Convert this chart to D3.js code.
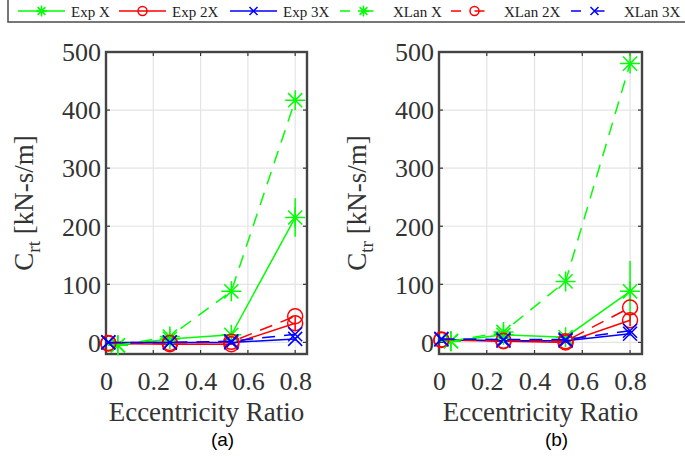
<!DOCTYPE html>
<html><head><meta charset="utf-8">
<script src="https://cdn.jsdelivr.net/npm/d3@7"></script>
<style>html,body{margin:0;padding:0;background:#fff;}svg{display:block;}</style>
</head><body>
<script>
// ---- data ----
const xGreen = [0.05, 0.27, 0.53, 0.8];
const xOther = [0.01, 0.27, 0.53, 0.8];
const xTicks = [0, 0.2, 0.4, 0.6, 0.8];
const xTickLabels = ["0", "0.2", "0.4", "0.6", "0.8"];
const yTicks = [0, 100, 200, 300, 400, 500];
const yTickLabels = ["0", "100", "200", "300", "400", "500"];
const legendLabels = ["Exp X", "Exp 2X", "Exp 3X", "XLan X", "XLan 2X", "XLan 3X"];

// panel (a): C_rt
const expX_a = [-5, 6, 13, 215];
const expXErr_a = [2, 3, 4, 33];
const exp2X_a = [-2, -3, -3, 33];
const exp2XErr_a = [1, 1, 1, 12];
const exp3X_a = [0, 0, 0, 6];
const exp3XErr_a = [1, 1, 1, 3];
const xlanX_a = [-5, 10, 88, 417];
const xlan2X_a = [-1, -1, 1, 45];
const xlan3X_a = [0, 0, 2, 14];

// panel (b): C_tr
const expX_b = [2, 13, 9, 88];
const expXErr_b = [2, 3, 3, 52];
const exp2X_b = [4, 2, 0, 38];
const exp2XErr_b = [1, 1, 1, 10];
const exp3X_b = [5, 3, 3, 15];
const exp3XErr_b = [1, 1, 1, 3];
const xlanX_b = [2, 18, 105, 480];
const xlan2X_b = [5, 3, 2, 60];
const xlan3X_b = [6, 5, 5, 20];

const GREEN = "#00ff00", RED = "#ff0000", BLUE = "#0000ff";
const serif = "'Liberation Serif','Times New Roman',serif";

const W = 685, H = 461;
const svg = d3.select("body").append("svg").attr("width", W).attr("height", H)
  .style("background", "#fff");

// ---- marker drawing ----
function marker(g, type, cx, cy, r, color) {
  if (type === "star") {
    const d = r * 0.7071;
    const p = `M${cx - r},${cy}L${cx + r},${cy}M${cx},${cy - r}L${cx},${cy + r}` +
      `M${cx - d},${cy - d}L${cx + d},${cy + d}M${cx - d},${cy + d}L${cx + d},${cy - d}`;
    g.append("path").attr("d", p).attr("stroke", color).attr("stroke-width", 1.5).attr("fill", "none");
  } else if (type === "circle") {
    g.append("circle").attr("cx", cx).attr("cy", cy).attr("r", r)
      .attr("stroke", color).attr("stroke-width", 1.5).attr("fill", "none");
  } else {
    const p = `M${cx - r},${cy - r}L${cx + r},${cy + r}M${cx - r},${cy + r}L${cx + r},${cy - r}`;
    g.append("path").attr("d", p).attr("stroke", color).attr("stroke-width", 1.5).attr("fill", "none");
  }
}

// ---- legend ----
const leg = svg.append("g");
leg.append("rect").attr("x", 8).attr("y", -3).attr("width", 690).attr("height", 25)
  .attr("fill", "#fff").attr("stroke", "#555").attr("stroke-width", 1.6);
const legItems = [
  { c: GREEN, m: "star", dash: null, x0: 18 },
  { c: RED, m: "circle", dash: null, x0: 119 },
  { c: BLUE, m: "x", dash: null, x0: 230 },
  { c: GREEN, m: "star", dash: "9,7", x0: 340 },
  { c: RED, m: "circle", dash: "9,7", x0: 451 },
  { c: BLUE, m: "x", dash: "9,7", x0: 571 }
];
legItems.forEach((it, i) => {
  const y = 11;
  leg.append("line").attr("x1", it.x0).attr("x2", it.x0 + 47).attr("y1", y).attr("y2", y)
    .attr("stroke", it.c).attr("stroke-width", 1.5)
    .attr("stroke-dasharray", it.dash ? "10,13.5" : null);
  marker(leg, it.m, it.x0 + 23.5, y, it.m === "circle" ? 4.5 : (it.m === "star" ? 5.5 : 4), it.c);
  leg.append("text").attr("x", it.x0 + 53).attr("y", y + 5.5)
    .attr("font-family", serif).attr("font-size", 15).attr("fill", "#222")
    .text(legendLabels[i]);
});

// ---- panels ----
function panel(opt) {
  const x = d3.scaleLinear().domain([0, 0.85]).range([opt.x0, opt.x1]);
  const y = d3.scaleLinear().domain([-20, 500]).range([354, 52]);
  const g = svg.append("g");

  // grid
  g.selectAll(".gx").data(xTicks.slice(1)).enter().append("line")
    .attr("x1", d => x(d)).attr("x2", d => x(d)).attr("y1", y(500)).attr("y2", y(-20))
    .attr("stroke", "#e4e4e4").attr("stroke-width", 1.2);
  g.selectAll(".gy").data(yTicks).enter().append("line")
    .attr("x1", x(0)).attr("x2", x(0.85)).attr("y1", d => y(d)).attr("y2", d => y(d))
    .attr("stroke", "#e4e4e4").attr("stroke-width", 1.2);

  // axes via d3 (labels)
  const ax = d3.axisBottom(x).tickValues(xTicks).tickFormat((d, i) => xTickLabels[i]).tickSize(0).tickPadding(0);
  const axG = g.append("g").attr("transform", `translate(0,${y(-20)})`).call(ax);
  axG.select(".domain").remove();
  axG.selectAll("text").attr("font-family", serif).attr("font-size", 26).attr("fill", "#333")
    .attr("dy", null).attr("y", 36);

  const ay = d3.axisLeft(y).tickValues(yTicks).tickFormat((d, i) => yTickLabels[i]).tickSize(0).tickPadding(5);
  const ayG = g.append("g").attr("transform", `translate(${x(0)},0)`).call(ay);
  ayG.select(".domain").remove();
  ayG.selectAll("text").attr("font-family", serif).attr("font-size", 26).attr("fill", "#333")
    .attr("dy", "0.34em");

  // inward ticks all sides
  const tk = 4;
  xTicks.forEach(d => {
    g.append("line").attr("x1", x(d)).attr("x2", x(d)).attr("y1", y(500)).attr("y2", y(500) + tk)
      .attr("stroke", "#333").attr("stroke-width", 1.2);
    g.append("line").attr("x1", x(d)).attr("x2", x(d)).attr("y1", y(-20)).attr("y2", y(-20) - tk)
      .attr("stroke", "#333").attr("stroke-width", 1.2);
  });
  yTicks.forEach(d => {
    g.append("line").attr("x1", x(0)).attr("x2", x(0) + tk).attr("y1", y(d)).attr("y2", y(d))
      .attr("stroke", "#333").attr("stroke-width", 1.2);
    g.append("line").attr("x1", x(0.85)).attr("x2", x(0.85) - tk).attr("y1", y(d)).attr("y2", y(d))
      .attr("stroke", "#333").attr("stroke-width", 1.2);
  });

  // frame
  g.append("rect").attr("x", x(0)).attr("y", y(500)).attr("width", x(0.85) - x(0)).attr("height", y(-20) - y(500))
    .attr("fill", "none").attr("stroke", "#444").attr("stroke-width", 2.4);

  // series
  const series = [
    { xs: xGreen, ys: opt.expX, err: opt.expXErr, c: GREEN, m: "star", dash: null },
    { xs: xOther, ys: opt.exp2X, err: opt.exp2XErr, c: RED, m: "circle", dash: null },
    { xs: xOther, ys: opt.exp3X, err: opt.exp3XErr, c: BLUE, m: "x", dash: null },
    { xs: xGreen, ys: opt.xlanX, err: null, c: GREEN, m: "star", dash: "13,9" },
    { xs: xOther, ys: opt.xlan2X, err: null, c: RED, m: "circle", dash: "13,9" },
    { xs: xOther, ys: opt.xlan3X, err: null, c: BLUE, m: "x", dash: "13,9" }
  ];
  const line = d3.line().x(d => x(d[0])).y(d => y(d[1]));
  series.forEach(s => {
    const pts = s.xs.map((xv, i) => [xv, s.ys[i]]);
    g.append("path").attr("d", line(pts)).attr("fill", "none").attr("stroke", s.c)
      .attr("stroke-width", 1.5).attr("stroke-dasharray", s.dash);
    if (s.err) {
      pts.forEach((p, i) => {
        g.append("line").attr("x1", x(p[0])).attr("x2", x(p[0]))
          .attr("y1", y(p[1] - s.err[i])).attr("y2", y(p[1] + s.err[i]))
          .attr("stroke", s.c).attr("stroke-width", 1.5);
      });
    }
    pts.forEach(p => marker(g, s.m, x(p[0]), y(p[1]), s.m === "circle" ? 7.5 : (s.m === "star" ? 10 : 7), s.c));
  });

  // y label
  const yl = g.append("text").attr("transform", `translate(${opt.x0 - 73},${(y(500) + y(-20)) / 2}) rotate(-90)`)
    .attr("text-anchor", "middle").attr("font-family", serif).attr("font-size", 27).attr("fill", "#333");
  yl.append("tspan").text("C");
  yl.append("tspan").attr("font-size", 19).attr("dy", 7).text(opt.sub);
  yl.append("tspan").attr("dy", -7).text(" [kN-s/m]");

  // x label
  g.append("text").attr("x", (opt.x0 + opt.x1) / 2).attr("y", 421).attr("text-anchor", "middle")
    .attr("font-family", serif).attr("font-size", 27).attr("fill", "#333").text("Eccentricity Ratio");

  // subfigure label
  g.append("text").attr("x", (opt.x0 + opt.x1) / 2 + 16).attr("y", 446).attr("text-anchor", "middle")
    .attr("font-family", "'Liberation Sans',Arial,sans-serif").attr("font-size", 19).attr("fill", "#000")
    .text(opt.tag);
}

panel({ x0: 106, x1: 307, sub: "rt", tag: "(a)",
  expX: expX_a, expXErr: expXErr_a, exp2X: exp2X_a, exp2XErr: exp2XErr_a, exp3X: exp3X_a, exp3XErr: exp3XErr_a,
  xlanX: xlanX_a, xlan2X: xlan2X_a, xlan3X: xlan3X_a });
panel({ x0: 439, x1: 642, sub: "tr", tag: "(b)",
  expX: expX_b, expXErr: expXErr_b, exp2X: exp2X_b, exp2XErr: exp2XErr_b, exp3X: exp3X_b, exp3XErr: exp3XErr_b,
  xlanX: xlanX_b, xlan2X: xlan2X_b, xlan3X: xlan3X_b });
</script>
</body></html>
